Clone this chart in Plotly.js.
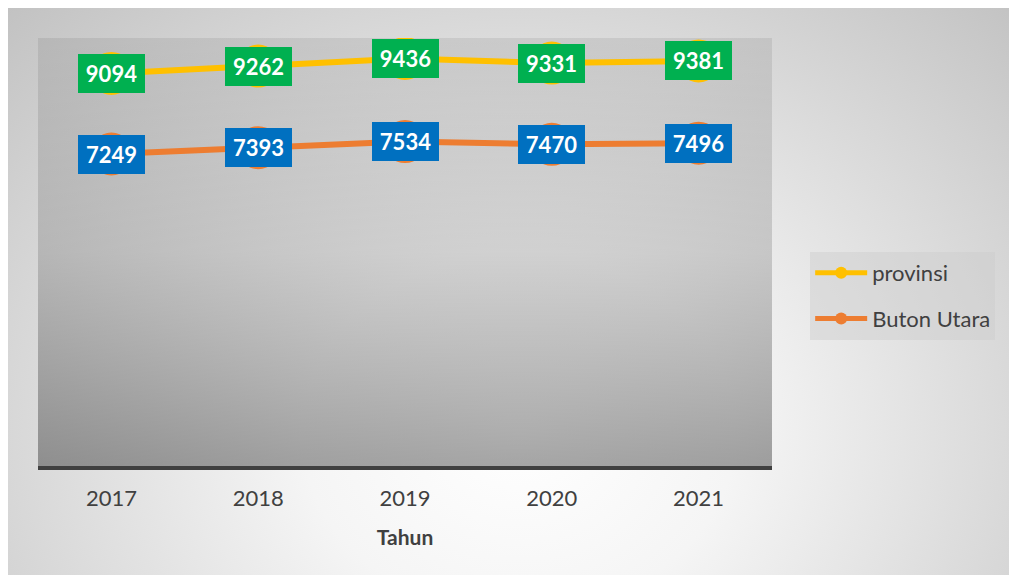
<!DOCTYPE html>
<html>
<head>
<meta charset="utf-8">
<script src="https://cdn.plot.ly/plotly-3.0.1.min.js"></script>
<style>
  html, body { margin: 0; padding: 0; background: #ffffff; }
  #chart {
    width: 1009px; height: 575px;
    background:
      linear-gradient(to bottom, rgba(0,0,0,0.08) 0%, rgba(0,0,0,0.15) 50%, rgba(0,0,0,0.35) 100%) 38px 38px / 734px 428px no-repeat,
      radial-gradient(ellipse farthest-corner at 51% 75%, #ffffff 0%, #f5f5f5 30%, #c2c2c2 100%) 8px 8px / 1001px 567px no-repeat,
      #ffffff;
  }
</style>
</head>
<body>
<div id="chart"></div>
<script>
  const years = ['2017', '2018', '2019', '2020', '2021'];
  const provinsi = [9094, 9262, 9436, 9331, 9381];
  const butonUtara = [7249, 7393, 7534, 7470, 7496];
  const seriesNames = ['provinsi', 'Buton Utara'];
  const xTitle = 'Tahun';

  const FONT = 'Lato, "Open Sans", sans-serif';

  const traces = [
    {
      x: years, y: provinsi, name: seriesNames[0], type: 'scatter', mode: 'lines+markers',
      line: { color: '#ffc000', width: 6 },
      marker: { color: '#ffc000', size: 43 },
      legendgroup: 'a', hoverinfo: 'x+y'
    },
    {
      x: years, y: butonUtara, name: seriesNames[1], type: 'scatter', mode: 'lines+markers',
      line: { color: '#ed7d31', width: 6 },
      marker: { color: '#ed7d31', size: 43 },
      legendgroup: 'b', hoverinfo: 'x+y'
    }
  ];

  // category axis: annotation x uses the category index on the axis scale
  function labels(xs, ys, bg) {
    return xs.map((x, i) => ({
      x: i, y: ys[i], xref: 'x', yref: 'y',
      text: '<b>' + ys[i] + '</b>',
      showarrow: false,
      bgcolor: bg,
      borderpad: 3,
      borderwidth: 0,
      width: 61, height: 33,
      font: { family: FONT, size: 22, color: '#ffffff' }
    }));
  }

  const layout = {
    width: 1009, height: 575,
    margin: { l: 38, r: 237, t: 38, b: 109, pad: 0 },
    paper_bgcolor: 'rgba(0,0,0,0)',
    plot_bgcolor: 'rgba(0,0,0,0)',
    font: { family: FONT, color: '#404040' },
    showlegend: true,
    legend: {
      x: 1.052, xanchor: 'left', y: 0.50, yanchor: 'top',
      bgcolor: 'rgba(205,205,205,0.45)',
      font: { family: FONT, size: 22, color: '#404040' },
      traceorder: 'grouped', tracegroupgap: 14,
      itemsizing: 'constant', itemwidth: 52
    },
    xaxis: {
      type: 'category', range: [-0.5, 4.5],
      showline: true, linecolor: '#404040', linewidth: 4,
      showgrid: false, zeroline: false, ticks: '',
      tickfont: { family: FONT, size: 22, color: '#404040' },
      ticklabelstandoff: 10,
      title: { text: '<b>' + xTitle + '</b>', font: { family: FONT, size: 21, color: '#404040' }, standoff: 21 },
      fixedrange: true
    },
    yaxis: {
      range: [105, 9905], visible: false, showgrid: false, zeroline: false, fixedrange: true
    },
    annotations: labels(years, provinsi, '#00b050').concat(labels(years, butonUtara, '#0070c0'))
  };

  Plotly.newPlot('chart', traces, layout, { displayModeBar: false, staticPlot: true });
</script>
</body>
</html>
